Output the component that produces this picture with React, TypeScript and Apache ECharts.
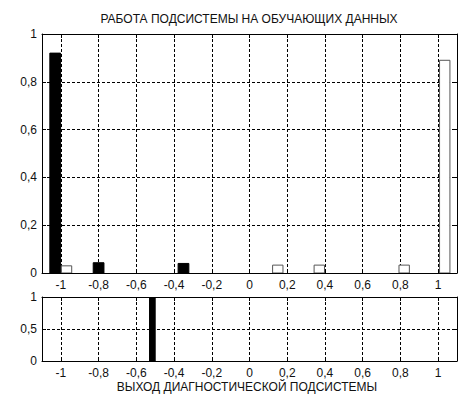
import React, { useEffect, useRef } from "react";
import * as echarts from "echarts";

const titleText = "РАБОТА ПОДСИСТЕМЫ НА ОБУЧАЮЩИХ ДАННЫХ";
const xLabelText = "ВЫХОД ДИАГНОСТИЧЕСКОЙ ПОДСИСТЕМЫ";

const xTicks = [-1, -0.8, -0.6, -0.4, -0.2, 0, 0.2, 0.4, 0.6, 0.8, 1];

// top panel: black bars (x center, height)
const blackX = [-1.03, -0.8, -0.35];
const blackY = [0.92, 0.043, 0.04];
// top panel: white bars
const whiteX = [-0.97, 0.15, 0.37, 0.82, 1.035];
const whiteY = [0.03, 0.033, 0.033, 0.033, 0.89];
// bottom panel
const bottomX = [-0.515];
const bottomY = [1];

const fmt = (v: number) => String(Math.round(v * 100) / 100).replace(".", ",");

function barSeries(xs: number[], ys: number[], idx: number, w: number, fill: string, stroke: string) {
  return {
    type: "custom",
    xAxisIndex: idx * 2,
    yAxisIndex: idx * 2,
    data: xs.map((x, i) => [x, ys[i]]),
    encode: { x: 0, y: 1 },
    clip: true,
    renderItem: (params: any, api: any) => {
      const x = api.value(0);
      const h = api.value(1);
      const p0 = api.coord([x - w / 2, h]);
      const p1 = api.coord([x + w / 2, 0]);
      return {
        type: "rect",
        shape: { x: p0[0], y: p0[1], width: p1[0] - p0[0], height: p1[1] - p0[1] },
        style: { fill, stroke, lineWidth: 1 },
      };
    },
  };
}

export default function App() {
  const ref = useRef<HTMLDivElement>(null);
  useEffect(() => {
    document.body.style.margin = "0";
    const chart = echarts.init(ref.current!, undefined, { renderer: "svg" });
    const font = "Liberation Sans, Arial, sans-serif";
    const labelStyle = { fontFamily: font, fontSize: 12, color: "#111" };
    const gridLine = { show: true, lineStyle: { color: "#000", type: [3, 2] as any, width: 1 } };
    const mkX = (gi: number, showLabel: boolean, pos: string) => ({
      type: "value",
      gridIndex: gi,
      position: pos,
      min: -1.1,
      max: 1.1,
      axisLine: { show: true, onZero: false, lineStyle: { color: "#000" } },
      axisTick: { show: true, inside: true, length: 4, customValues: xTicks, lineStyle: { color: "#000" } },
      axisLabel: { show: showLabel, customValues: xTicks, formatter: fmt, margin: 6, ...labelStyle },
      splitLine: pos === "bottom" ? gridLine : { show: false },
    });
    const mkY = (gi: number, interval: number, showLabel: boolean, pos: string) => ({
      type: "value",
      gridIndex: gi,
      position: pos,
      min: 0,
      max: 1,
      interval,
      axisLine: { show: true, onZero: false, lineStyle: { color: "#000" } },
      axisTick: { show: true, inside: true, length: 4, lineStyle: { color: "#000" } },
      axisLabel: { show: showLabel, formatter: fmt, margin: 5, ...labelStyle },
      splitLine: pos === "left" ? gridLine : { show: false },
    });
    chart.setOption({
      animation: false,
      backgroundColor: "#fff",
      grid: [
        { left: 42, top: 34, width: 415, height: 239, show: false },
        { left: 42, top: 297, width: 415, height: 64, show: false },
      ],
      xAxis: [mkX(0, true, "bottom"), mkX(0, false, "top"), mkX(1, true, "bottom"), mkX(1, false, "top")],
      yAxis: [mkY(0, 0.2, true, "left"), mkY(0, 0.2, false, "right"), mkY(1, 0.5, true, "left"), mkY(1, 0.5, false, "right")],
      series: [
        barSeries(blackX, blackY, 0, 0.057, "#000", "#000"),
        barSeries(whiteX, whiteY, 0, 0.055, "#fff", "#555"),
        barSeries(bottomX, bottomY, 1, 0.03, "#000", "#000"),
      ],
      graphic: [
        {
          type: "text",
          x: 249,
          y: 19,
          style: { text: titleText, fontFamily: font, fontSize: 12, fill: "#111", textAlign: "center", textVerticalAlign: "middle" },
        },
        {
          type: "text",
          x: 247,
          y: 387,
          style: { text: xLabelText, fontFamily: font, fontSize: 12, fill: "#111", textAlign: "center", textVerticalAlign: "middle" },
        },
      ],
    });
    return () => chart.dispose();
  }, []);
  return <div ref={ref} style={{ width: 467, height: 409 }} />;
}
